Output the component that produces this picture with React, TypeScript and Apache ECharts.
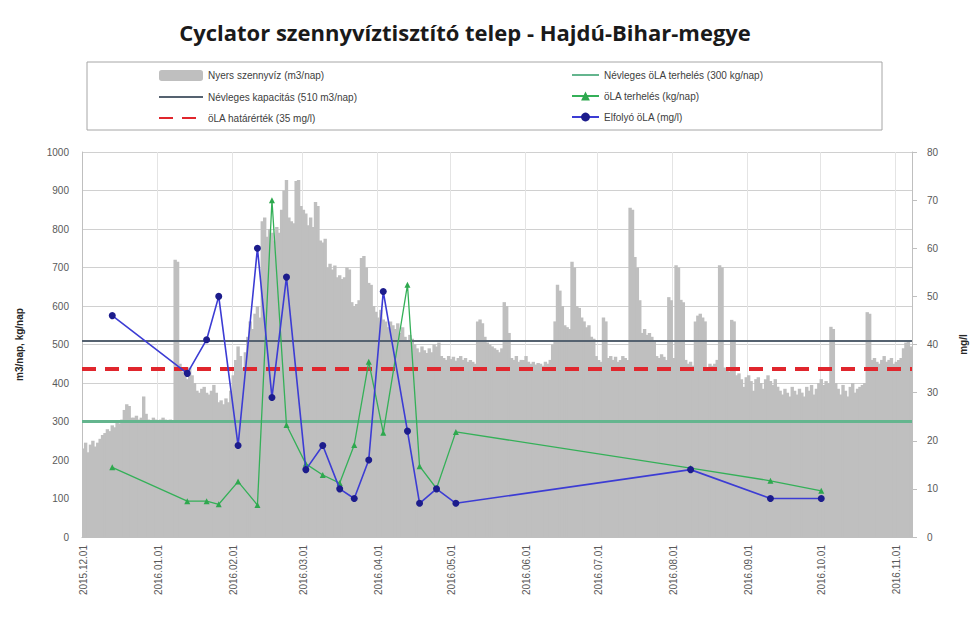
import React, { useEffect, useRef } from "react";
import * as echarts from "echarts";

// ---- categories: daily dates 2015.12.01 .. 2016.11.07 ----
const startDate = Date.UTC(2015, 11, 1);
const dayCount = 343;
const categories: string[] = [];
for (let i = 0; i < dayCount; i++) {
  const d = new Date(startDate + i * 86400000);
  const s = `${d.getUTCFullYear()}.${String(d.getUTCMonth() + 1).padStart(2, "0")}.${String(d.getUTCDate()).padStart(2, "0")}`;
  categories.push(s);
}

// ---- Nyers szennyvíz (m3/nap), daily ----
const flowDec = [230, 245, 220, 240, 250, 235, 245, 255, 265, 270, 280, 275, 290, 285, 300, 295, 305, 330, 345, 340, 310, 310, 315, 305, 310, 365, 320, 305, 300, 310, 305];
const flowJan = [300, 305, 310, 305, 300, 305, 300, 720, 715, 450, 430, 420, 410, 440, 420, 400, 380, 375, 385, 390, 375, 370, 380, 395, 375, 350, 355, 345, 360, 350, 380];
const flowFeb = [420, 460, 495, 470, 440, 480, 520, 560, 540, 580, 600, 570, 820, 830, 780, 800, 790, 770, 805, 790, 850, 900, 927, 830, 820, 815, 925, 927, 860];
const flowMar = [850, 840, 810, 830, 805, 870, 860, 770, 765, 775, 700, 710, 695, 705, 675, 680, 670, 675, 700, 695, 610, 600, 605, 615, 725, 730, 700, 660, 655, 600, 585];
const flowApr = [570, 590, 565, 560, 545, 560, 550, 540, 555, 530, 545, 520, 510, 525, 515, 500, 490, 480, 495, 485, 478, 490, 480, 500, 495, 505, 470, 465, 460, 470];
const flowMay = [462, 468, 458, 465, 470, 460, 465, 455, 460, 455, 450, 560, 565, 555, 520, 505, 500, 495, 490, 486, 480, 490, 610, 600, 530, 465, 460, 470, 455, 460, 460];
const flowJun = [470, 455, 450, 455, 448, 452, 450, 445, 455, 450, 460, 500, 560, 655, 640, 600, 550, 545, 540, 715, 700, 600, 595, 570, 560, 545, 550, 520, 515, 470];
const flowJul = [460, 455, 570, 560, 465, 470, 460, 468, 455, 460, 470, 465, 460, 855, 850, 727, 700, 615, 530, 540, 525, 530, 520, 510, 470, 465, 475, 468, 460, 623, 615];
const flowAug = [465, 706, 700, 616, 610, 460, 450, 455, 445, 560, 575, 580, 570, 560, 440, 450, 445, 450, 460, 706, 700, 440, 435, 430, 564, 560, 420, 425, 410, 390, 415];
const flowSep = [420, 405, 380, 410, 415, 400, 385, 410, 420, 405, 395, 410, 390, 380, 370, 385, 375, 365, 390, 380, 370, 385, 375, 365, 390, 380, 395, 370, 385, 400];
const flowOct = [410, 395, 405, 400, 546, 540, 400, 385, 370, 395, 380, 365, 390, 400, 375, 385, 390, 395, 400, 584, 580, 460, 465, 455, 450, 460, 470, 455, 460, 465, 450];
const flowNov = [455, 460, 465, 490, 505, 510, 495];
const flowValues = [...flowDec, ...flowJan, ...flowFeb, ...flowMar, ...flowApr, ...flowMay, ...flowJun, ...flowJul, ...flowAug, ...flowSep, ...flowOct, ...flowNov];

// ---- sampling days ----
const sampleDates = [
  "2015.12.13", "2016.01.13", "2016.01.21", "2016.01.26", "2016.02.03", "2016.02.11", "2016.02.17",
  "2016.02.23", "2016.03.02", "2016.03.09", "2016.03.16", "2016.03.22", "2016.03.28", "2016.04.03",
  "2016.04.13", "2016.04.18", "2016.04.25", "2016.05.03", "2016.08.08", "2016.09.10", "2016.10.01",
];
// ÖLA terhelés (kg/nap)
const olaLoad = [181, 93, 93, 85, 144, 83, 875, 291, 190, 161, 140, 239, 455, 271, 655, 184, 126, 273, 179, 146, 120];
// Elfolyó ÖLA (mg/l)
const olaEffluent = [46, 34, 41, 50, 19, 60, 29, 54, 14, 19, 10, 8, 16, 51, 22, 7, 10, 7, 14, 8, 8];

// reference values
const capacity = 510;
const nominalLoad = 300;
const olaLimit = 35;

const leftTicks = { min: 0, max: 1000, interval: 100 };
const rightTicks = { min: 0, max: 80, interval: 10 };

const FONT = "Liberation Sans";

export default function App() {
  const ref = useRef<HTMLDivElement>(null);
  useEffect(() => {
    if (!ref.current) return;
    const chart = echarts.init(ref.current, undefined, { renderer: "svg" });
    const idx = (d: string) => categories.indexOf(d);
    const isMonthStart = (_i: number, v: string) => v.endsWith(".01");
    const noData: any[] = [];
    const hideSym = { opacity: 0 };
    chart.setOption({
      animation: false,
      backgroundColor: "#ffffff",
      textStyle: { fontFamily: FONT },
      title: {
        text: "Cyclator szennyvíztisztító telep - Hajdú-Bihar-megye",
        left: 460,
        textAlign: "center",
        top: 16,
        textStyle: { fontFamily: "Open Sans", fontWeight: "bold", fontSize: 22, color: "#1a1a1a" },
      },
      graphic: [
        {
          type: "rect",
          z: -10,
          silent: true,
          shape: { x: 87, y: 62, width: 795, height: 68 },
          style: { fill: "#ffffff", stroke: "#a6a6a6", lineWidth: 1 },
        },
      ],
      legend: [
        {
          orient: "vertical",
          left: 153,
          top: 65,
          itemGap: 11,
          itemWidth: 44,
          itemHeight: 11,
          textStyle: { fontSize: 10, color: "#404040", fontFamily: FONT },
          data: [
            { name: "Nyers szennyvíz (m3/nap)" },
            { name: "Névleges kapacitás (510 m3/nap)", itemStyle: hideSym },
            { name: "öLA határérték (35 mg/l)", itemStyle: hideSym },
          ],
        },
        {
          orient: "vertical",
          left: 566,
          top: 65,
          itemGap: 11,
          itemWidth: 27,
          itemHeight: 11,
          textStyle: { fontSize: 10, color: "#404040", fontFamily: FONT },
          data: [
            { name: "Névleges öLA terhelés (300 kg/nap)", itemStyle: hideSym },
            { name: "öLA terhelés (kg/nap)" },
            { name: "Elfolyó öLA (mg/l)" },
          ],
        },
      ],
      grid: { left: 82, right: 66, top: 152, bottom: 89 },
      xAxis: {
        type: "category",
        data: categories,
        boundaryGap: true,
        axisLine: { show: true, lineStyle: { color: "#bfbfbf" } },
        axisTick: { show: false },
        axisLabel: {
          interval: isMonthStart,
          rotate: 90,
          fontSize: 10,
          color: "#595959",
          margin: 8,
          fontFamily: FONT,
        },
        splitLine: { show: true, interval: isMonthStart, lineStyle: { color: "#e4e4e4", width: 1 } },
      },
      yAxis: [
        {
          type: "value",
          ...leftTicks,
          name: "m3/nap, kg/nap",
          nameLocation: "middle",
          nameRotate: 90,
          nameGap: 58,
          nameTextStyle: { fontSize: 10, color: "#262626", fontWeight: "bold", fontFamily: FONT },
          axisLine: { show: true, lineStyle: { color: "#bfbfbf" } },
          axisTick: { show: false },
          axisLabel: { fontSize: 10, color: "#595959", margin: 13, fontFamily: FONT, formatter: (v: number) => String(v) },
          splitLine: { show: true, lineStyle: { color: "#d0d0d0" } },
        },
        {
          type: "value",
          ...rightTicks,
          name: "mg/l",
          nameLocation: "middle",
          nameRotate: 90,
          nameGap: 46,
          nameTextStyle: { fontSize: 10, color: "#262626", fontWeight: "bold", fontFamily: FONT },
          axisLine: { show: true, lineStyle: { color: "#bfbfbf" } },
          axisTick: { show: true, length: 5, lineStyle: { color: "#bfbfbf" } },
          axisLabel: { fontSize: 10, color: "#595959", margin: 15, fontFamily: FONT, formatter: (v: number) => String(v) },
          splitLine: { show: false },
        },
      ],
      series: [
        {
          name: "Nyers szennyvíz (m3/nap)",
          type: "bar",
          yAxisIndex: 0,
          data: flowValues,
          barWidth: 3.4,
          itemStyle: { color: "#bfbfbf" },
          z: 1,
        },
        {
          name: "Névleges kapacitás (510 m3/nap)",
          type: "line",
          yAxisIndex: 0,
          data: noData,
          symbol: "none",
          itemStyle: { color: "#556270" },
          lineStyle: { color: "#556270", width: 2 },
          markLine: {
            silent: true,
            symbol: "none",
            label: { show: false },
            lineStyle: { color: "#556270", width: 2, type: "solid" },
            data: [{ yAxis: capacity }],
          },
          z: 3,
        },
        {
          name: "öLA határérték (35 mg/l)",
          type: "line",
          yAxisIndex: 1,
          data: noData,
          symbol: "none",
          itemStyle: { color: "#e0262d" },
          lineStyle: { color: "#e0262d", width: 4, type: [14, 9] },
          markLine: {
            silent: true,
            symbol: "none",
            label: { show: false },
            lineStyle: { color: "#e0262d", width: 4, type: [14, 9] },
            data: [{ yAxis: olaLimit }],
          },
          z: 4,
        },
        {
          name: "Névleges öLA terhelés (300 kg/nap)",
          type: "line",
          yAxisIndex: 0,
          data: noData,
          symbol: "none",
          itemStyle: { color: "#64b58e" },
          lineStyle: { color: "#64b58e", width: 3 },
          markLine: {
            silent: true,
            symbol: "none",
            label: { show: false },
            lineStyle: { color: "#64b58e", width: 3, type: "solid" },
            data: [{ yAxis: nominalLoad }],
          },
          z: 3,
        },
        {
          name: "öLA terhelés (kg/nap)",
          type: "line",
          yAxisIndex: 0,
          data: sampleDates.map((d, i) => [idx(d), olaLoad[i]]),
          symbol: "triangle",
          symbolSize: 6,
          showSymbol: true,
          showAllSymbol: true,
          itemStyle: { color: "#2ea84e" },
          lineStyle: { color: "#34b058", width: 1.3 },
          z: 5,
        },
        {
          name: "Elfolyó öLA (mg/l)",
          type: "line",
          yAxisIndex: 1,
          data: sampleDates.map((d, i) => [idx(d), olaEffluent[i]]),
          symbol: "circle",
          symbolSize: 7,
          showSymbol: true,
          showAllSymbol: true,
          itemStyle: { color: "#1c1c8c" },
          lineStyle: { color: "#3c3cd4", width: 1.6 },
          z: 6,
        },
      ],
    });
    return () => chart.dispose();
  }, []);
  return (
    <div
      ref={ref}
      style={{ position: "fixed", left: 0, top: 0, width: 978, height: 626, background: "#fff" }}
    />
  );
}
